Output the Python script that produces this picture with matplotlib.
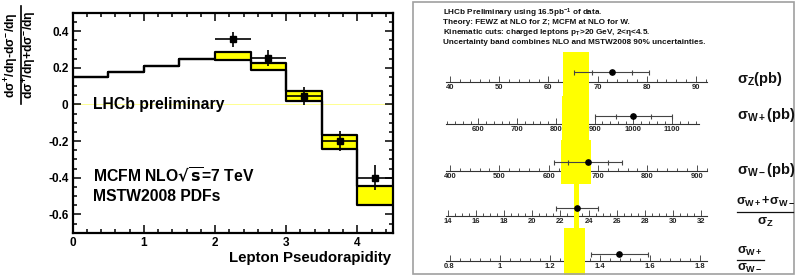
import matplotlib
matplotlib.use("Agg")
import matplotlib.pyplot as plt
from matplotlib.ticker import MultipleLocator, FuncFormatter
from matplotlib.patches import Rectangle
from matplotlib.lines import Line2D

plt.rcParams['font.family'] = ['Liberation Sans', 'DejaVu Sans']
plt.rcParams['font.weight'] = 'bold'
plt.rcParams['mathtext.fontset'] = 'custom'
plt.rcParams['mathtext.rm'] = 'Liberation Sans:bold'
plt.rcParams['mathtext.it'] = 'Liberation Sans:bold'
plt.rcParams['mathtext.bf'] = 'Liberation Sans:bold'
plt.rcParams['mathtext.sf'] = 'Liberation Sans:bold'

# ---- left panel: charge asymmetry vs lepton pseudorapidity ----
eta_edges = [0, 0.5, 1.0, 1.5, 2.0, 2.5, 3.0, 3.5, 4.0, 4.5]
mcfm_lo = [0.15, 0.175, 0.21, 0.25, 0.24, 0.186, 0.02, -0.243, -0.55]
mcfm_hi = [0.15, 0.175, 0.21, 0.25, 0.285, 0.223, 0.072, -0.166, -0.447]
data_eta = [2.25, 2.75, 3.25, 3.75, 4.25]
data_asym = [0.354, 0.252, 0.043, -0.200, -0.401]
data_err = [0.041, 0.043, 0.049, 0.057, 0.068]

# ---- right panel: cross sections and ratios ----
meas_names = ['Z', 'Wp', 'Wm', 'sum_over_Z', 'Wp_over_Wm']
meas_range = [(39.19, 92.17), (516.8, 1169.6), (391.9, 920.3), (13.86, 32.4), (0.786, 1.827)]
meas_major = [10, 100, 100, 2, 0.2]
meas_minor = [2, 20, 20, 0.5, 0.04]
theory_lo = [62.9, 817, 624, 22.94, 1.256]
theory_hi = [68.3, 886, 685, 23.34, 1.340]
meas_val = [72.9, 1000, 680, 23.16, 1.478]
meas_tot = [7.6, 99, 69, 1.5, 0.113]
meas_stat = [4.1, 46, 41, None, None]

W, H = 795, 275
fig = plt.figure(figsize=(W / 100, H / 100), dpi=100)


def px_axes(x0, y0, x1, y1):
    return fig.add_axes([x0 / W, 1 - y1 / H, (x1 - x0) / W, (y1 - y0) / H])


ax = px_axes(72.7, 12.7, 393, 232.7)
ax.set_xlim(0, 4.5)
ax.set_ylim(-0.7, 0.5)
ax.axhline(0, color='#ffff80', lw=0.6, zorder=1)
ax.fill_between(eta_edges, mcfm_lo + [mcfm_lo[-1]], mcfm_hi + [mcfm_hi[-1]],
                step='post', color='#ffff00', lw=0, zorder=2)
ax.step(eta_edges, mcfm_lo + [mcfm_lo[-1]], where='post', color='black', lw=1.6, zorder=3)
ax.step(eta_edges, mcfm_hi + [mcfm_hi[-1]], where='post', color='black', lw=1.6, zorder=3)
ax.errorbar(data_eta, data_asym, xerr=0.25, yerr=data_err, fmt='s', color='black',
            ms=4.5, elinewidth=1.2, capsize=0, zorder=4)

for s in ax.spines.values():
    s.set_linewidth(1.6)
ax.xaxis.set_major_locator(MultipleLocator(1))
ax.xaxis.set_minor_locator(MultipleLocator(0.2))
ax.yaxis.set_major_locator(MultipleLocator(0.2))
ax.yaxis.set_minor_locator(MultipleLocator(0.05))
ax.yaxis.set_major_formatter(FuncFormatter(lambda v, p: '0' if abs(v) < 1e-9 else '%.1f' % v))
ax.xaxis.set_major_formatter(FuncFormatter(lambda v, p: '%d' % round(v)))
ax.tick_params(which='both', direction='in', top=True, right=True, width=1.1)
ax.tick_params(which='major', length=5.5, labelsize=8.5, pad=3)
ax.tick_params(which='minor', length=2.8)
for lab in ax.get_xticklabels() + ax.get_yticklabels():
    lab.set_fontweight('bold')

ax.text(0.29, 0.0, 'LHCb preliminary', fontsize=11.3, fontweight='bold', va='center')
ax.text(0.29, -0.39, r'MCFM NLO$\sqrt{\mathbf{s}}$=7 TeV', fontsize=11.3, fontweight='bold',
        va='center', math_fontfamily='dejavusans')
ax.text(0.29, -0.50, 'MSTW2008 PDFs', fontsize=11.3, fontweight='bold', va='center')
fig.text(390.7 / W, 1 - 258 / H, 'Lepton Pseudorapidity', fontsize=10.8,
         fontweight='bold', ha='right', va='center')

# y label as a stacked fraction
fig.text(11.5 / W, 1 - 55 / H, r'd$\sigma^{+}$/d$\eta$-d$\sigma^{-}$/d$\eta$', rotation=90,
         fontsize=8.8, fontweight='bold', ha='center', va='center')
fig.text(29.5 / W, 1 - 55 / H, r'd$\sigma^{+}$/d$\eta$+d$\sigma^{-}$/d$\eta$', rotation=90,
         fontsize=8.8, fontweight='bold', ha='center', va='center')
fig.add_artist(Line2D([20.5 / W, 20.5 / W], [1 - 6 / H, 1 - 104 / H], color='black', lw=1.2))

# ---- right panel ----
fig.add_artist(Rectangle((413 / W, 1 - 273.5 / H), 381 / W, 272 / H, transform=fig.transFigure,
                         fill=False, edgecolor='#a0a0a0', lw=1.2))

header = ['LHCb Preliminary using 16.5pb$^{-1}$ of data.',
          'Theory: FEWZ at NLO for Z; MCFM at NLO for W.',
          r'Kinematic cuts: charged leptons p$_{T}$>20 GeV, 2<$\eta$<4.5.',
          'Uncertainty band combines NLO and MSTW2008 90% uncertainties.']
for i, line in enumerate(header):
    fig.text(443 / W, 1 - (13 + 10 * i) / H, line, fontsize=5.85, fontweight='bold',
             va='center', color='#111111')

# vertical layout of each number line: axes top, line, bottom, dot height, right end
rows_px = [(52, 82, 96, 10, 706.7), (96, 124, 140, 7.5, 699.3), (140, 170.7, 184, 8.5, 706.7),
           (184, 215.7, 228, 7.5, 706.7), (228, 261, 275, 7.5, 706.7)]
fmts = ['%d', '%d', '%d', '%d', '%g']

for i in range(len(meas_names)):
    top, line, bottom, dot, xr = rows_px[i]
    a = px_axes(446, top, xr, bottom)
    a.set_xlim(meas_range[i])
    a.set_ylim(-(bottom - line), line - top)
    a.patch.set_visible(False)
    for k in ('top', 'left', 'right'):
        a.spines[k].set_visible(False)
    a.spines['bottom'].set_position(('data', 0))
    a.spines['bottom'].set_linewidth(0.8)
    a.spines['bottom'].set_color('#333333')
    a.set_yticks([])
    a.xaxis.set_major_locator(MultipleLocator(meas_major[i]))
    a.xaxis.set_minor_locator(MultipleLocator(meas_minor[i]))
    f = fmts[i]
    a.xaxis.set_major_formatter(FuncFormatter(lambda v, p, f=f: f % (round(v, 6))))
    a.tick_params(which='both', direction='in', color='#333333', width=0.6)
    a.tick_params(which='major', length=4, labelsize=5.5, pad=1.5, labelcolor='#222222')
    a.tick_params(which='minor', length=2)
    for lab in a.get_xticklabels():
        lab.set_fontweight('bold')
    a.axvspan(theory_lo[i], theory_hi[i], color='#ffff00', lw=0, zorder=3)
    a.errorbar(meas_val[i], dot, xerr=meas_tot[i], fmt='o', color='black', ms=3.8,
               ecolor='#444444', elinewidth=0.8, capsize=1.8, capthick=0.8, zorder=4)
    if meas_stat[i] is not None:
        a.errorbar(meas_val[i], dot, xerr=meas_stat[i], fmt='none', ecolor='#444444',
                   elinewidth=0, capsize=1.8, capthick=0.8, zorder=4)

# labels on the right
lab_kw = dict(fontsize=10.5, fontweight='bold', va='center', color='#111111')
frac_kw = dict(fontsize=9.2, fontweight='bold', va='center', color='#111111')
fig.text(737 / W, 1 - 78.5 / H, r'$\sigma_{Z}$(pb)', **lab_kw)
fig.text(737 / W, 1 - 115 / H, r'$\sigma_{W+}$(pb)', **lab_kw)
fig.text(737 / W, 1 - 170 / H, r'$\sigma_{W-}$(pb)', **lab_kw)
fig.text(736 / W, 1 - 202 / H, r'$\sigma_{W+}$+$\sigma_{W-}$', **frac_kw)
fig.add_artist(Line2D([737 / W, 793 / W], [1 - 211.7 / H, 1 - 211.7 / H], color='#111111', lw=0.9))
fig.text(765 / W, 1 - 222.5 / H, r'$\sigma_{Z}$', ha='center', fontsize=9.5,
         fontweight='bold', va='center', color='#111111')
fig.text(737 / W, 1 - 251.5 / H, r'$\sigma_{W+}$', **frac_kw)
fig.add_artist(Line2D([737 / W, 764 / W], [1 - 259.5 / H, 1 - 259.5 / H], color='#111111', lw=0.9))
fig.text(737 / W, 1 - 268 / H, r'$\sigma_{W-}$', **frac_kw)

fig.savefig('out.png', dpi=100)
